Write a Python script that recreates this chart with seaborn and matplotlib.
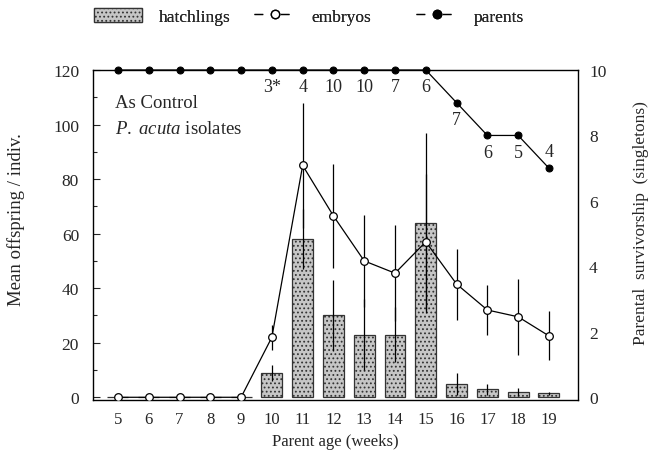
import matplotlib
matplotlib.use("Agg")
import matplotlib.pyplot as plt
import seaborn as sns
import pandas as pd
import numpy as np
from matplotlib.lines import Line2D
from matplotlib.patches import Patch

weeks = [5, 6, 7, 8, 9, 10, 11, 12, 13, 14, 15, 16, 17, 18, 19]
hatchlings = [0, 0, 0, 0, 0, 9, 58, 30, 23, 23, 64, 5, 3, 2, 1.5]
hatch_err = [0, 0, 0, 0, 0, 3, 11, 13, 13, 10, 33, 4, 2, 1.5, 0.5]
embryos = [0, 0, 0, 0, 0, 22, 85, 66.5, 50, 45.5, 57, 41.5, 32, 29.5, 22.5]
embryo_err = [1, 1, 1, 1, 1, 4.5, 23, 19, 17, 17.5, 25, 13, 9, 14, 9]
parents = [10, 10, 10, 10, 10, 10, 10, 10, 10, 10, 10, 9, 8, 8, 7]
n_labels = ["", "", "", "", "", "3*", "4", "10", "10", "7", "6", "7", "6", "5", "4"]

sns.set_style("white")
plt.rcParams['font.family'] = ['Liberation Serif', 'DejaVu Serif']
plt.rcParams['mathtext.fontset'] = 'custom'
plt.rcParams['mathtext.rm'] = 'Liberation Serif'
plt.rcParams['mathtext.it'] = 'Liberation Serif:italic'
plt.rcParams['hatch.linewidth'] = 0.8
plt.rcParams['hatch.color'] = '#555555'

fig = plt.figure(figsize=(6.53, 4.56), dpi=100)
ax = fig.add_axes([0.1424, 0.1206, 0.7426, 0.7237])

bar_face = "#c6c6c6"
df = pd.DataFrame({"week": weeks, "hatchlings": hatchlings})
sns.barplot(data=df, x="week", y="hatchlings", native_scale=True, width=0.68,
            color=bar_face, edgecolor="#333333", linewidth=0.9, errorbar=None,
            ax=ax, zorder=1)
for p in ax.patches:
    p.set_facecolor(bar_face)
    p.set_hatch("....")

# hatchling error bars
ax.errorbar(weeks[5:], hatchlings[5:], yerr=hatch_err[5:], fmt="none",
            ecolor="black", elinewidth=0.9, capsize=0, zorder=3)
# embryos
ax.errorbar(weeks, embryos, yerr=embryo_err, fmt="none", ecolor="black",
            elinewidth=0.9, capsize=0, zorder=3)
sns.lineplot(x=weeks, y=embryos, ax=ax, color="black", linewidth=0.9,
             marker="o", markersize=5.5, markerfacecolor="white",
             markeredgecolor="black", markeredgewidth=0.9, zorder=4)

ax.set_xlim(4.19, 19.94)
ax.set_ylim(-1, 120)
ax.set_yticks(np.arange(0, 121, 20))
ax.set_yticks(np.arange(10, 120, 20), minor=True)
ax.set_xticks(weeks)
ax.set_xticklabels([str(w) for w in weeks], fontsize=12)
ax.tick_params(axis="y", which="major", direction="in", length=5, width=0.8,
               labelsize=12.5, pad=10, left=True)
ax.tick_params(axis="y", which="minor", direction="in", length=3, width=0.8, left=True)
ax.tick_params(axis="x", length=0, pad=8)
ax.set_xlabel("Parent age (weeks)", fontsize=12, labelpad=4)
ax.set_ylabel("Mean offspring / indiv.", fontsize=13.5)
ax.yaxis.set_label_coords(-0.14, 0.55)
for s in ax.spines.values():
    s.set_color("black")
    s.set_linewidth(1.0)

ax2 = ax.twinx()
ax2.set_ylim(-1 / 12, 10)
sns.lineplot(x=weeks, y=parents, ax=ax2, color="black", linewidth=0.9,
             marker="o", markersize=5, markerfacecolor="black",
             markeredgecolor="black", clip_on=False, zorder=5)
ax2.set_yticks(np.arange(0, 11, 2))
ax2.tick_params(axis="y", length=0, labelsize=12.5, pad=8)
ax2.set_ylabel("Parental  survivorship  (singletons)", fontsize=12.5, rotation=90)
ax2.yaxis.set_label_coords(1.113, 0.54)
for s in ax2.spines.values():
    s.set_visible(False)

for w, pv, lab in zip(weeks, parents, n_labels):
    if not lab:
        continue
    if w == 19:
        ax2.annotate(lab, (w, pv), xytext=(0, 6), textcoords="offset points",
                     ha="center", va="bottom", fontsize=13)
    else:
        ax2.annotate(lab, (w, pv), xytext=(0, -6), textcoords="offset points",
                     ha="center", va="top", fontsize=13)

ax.text(0.045, 0.90, "As Control", transform=ax.transAxes, fontsize=13.5,
        va="center", ha="left")
ax.text(0.045, 0.822, r"$\it{P.\ acuta}$ isolates", transform=ax.transAxes,
        fontsize=13.5, va="center", ha="left")

# legend: three single-entry legends placed along the top
legend_items = [
    (Patch(facecolor=bar_face, edgecolor="#333333", hatch="....", linewidth=0.9),
     "hatchlings", 0.1204, 2.75),
    (Line2D([0], [0], color="black", lw=0.9, linestyle=(0, (7, 14)), marker="o",
            markersize=6, markerfacecolor="white", markeredgecolor="black"),
     "embryos", 0.3654, 2.35),
    (Line2D([0], [0], color="black", lw=0.9, linestyle=(0, (7, 14)), marker="o",
            markersize=6, markerfacecolor="black"),
     "parents", 0.6135, 2.35),
]
for h, lab, xpos, hl in legend_items:
    leg = fig.legend([h], [lab], loc="upper left", bbox_to_anchor=(xpos, 1.015),
                     frameon=False, fontsize=12.5, handlelength=hl,
                     handletextpad=0.95, handleheight=0.9)
    fig.add_artist(leg)

fig.savefig("out.png", dpi=100)
